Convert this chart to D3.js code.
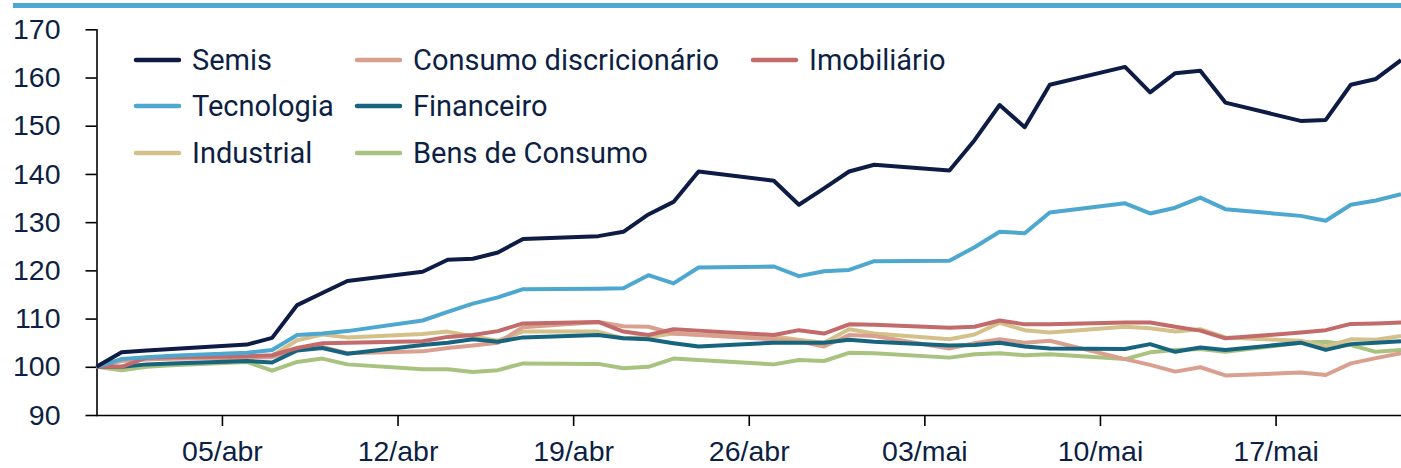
<!DOCTYPE html>
<html>
<head>
<meta charset="utf-8">
<script src="https://cdn.jsdelivr.net/npm/d3@7"></script>
<style>
  body { margin: 0; background: #fff; }
  svg { display: block; font-family: Roboto, "Noto Sans", sans-serif; }
  .axis path, .axis line { stroke: #000; stroke-width: 1.6; }
  .axis text { fill: #0d1f44; font-size: 28.5px; }
  .legend text { fill: #0d1f44; font-size: 29px; }
</style>
</head>
<body>
<div class="canvas"></div>
<script>
// trading days (2020)
const dates = ["2020-03-31","2020-04-01","2020-04-02","2020-04-03","2020-04-06","2020-04-07","2020-04-08","2020-04-09","2020-04-10",
  "2020-04-13","2020-04-14","2020-04-15","2020-04-16","2020-04-17","2020-04-20","2020-04-21","2020-04-22","2020-04-23","2020-04-24",
  "2020-04-27","2020-04-28","2020-04-29","2020-04-30","2020-05-01","2020-05-04","2020-05-05","2020-05-06","2020-05-07","2020-05-08",
  "2020-05-11","2020-05-12","2020-05-13","2020-05-14","2020-05-15","2020-05-18","2020-05-19","2020-05-20","2020-05-21","2020-05-22"];

const semis = [100,103.0,103.4,103.7,104.6,106.0,112.8,115.3,117.8,119.7,122.2,122.4,123.7,126.5,127.1,128.0,131.6,134.2,140.5,
  138.6,133.6,137.0,140.5,141.9,140.7,147.0,154.3,149.7,158.5,162.2,156.9,160.9,161.4,154.8,151.0,151.2,158.5,159.7,163.6];
const tecnologia = [100,101.6,102.0,102.3,102.9,103.5,106.6,106.9,107.4,109.6,111.4,113.1,114.4,116.1,116.2,116.3,119.0,117.3,120.6,
  120.8,118.8,119.8,120.1,121.9,122.0,124.8,128.0,127.7,132.0,133.9,131.8,133.0,135.1,132.7,131.3,130.3,133.6,134.5,135.8];
const industrial = [100,101.6,101.6,101.7,102.0,102.3,105.5,106.7,106.1,106.8,107.3,106.3,105.4,107.3,107.3,105.9,106.2,106.9,106.7,
  106.3,105.6,105.0,107.8,106.9,105.7,106.7,109.1,107.6,107.1,108.3,108.0,107.3,107.8,106.1,105.4,104.2,105.7,105.6,106.4];
const consumoDisc = [100,101.2,101.5,101.7,101.9,102.0,103.5,104.1,102.8,103.2,103.9,104.4,105.0,108.2,109.3,108.4,108.3,106.9,106.6,
  105.7,105.3,104.2,106.6,106.4,103.8,104.9,105.7,105.0,105.4,101.6,100.4,99.0,99.9,98.2,98.8,98.3,100.7,101.8,102.8];
const financeiro = [100,100.0,100.5,100.7,101.2,100.9,103.4,103.9,102.7,104.5,105.0,105.7,105.2,106.1,106.6,105.9,105.7,104.9,104.2,
  105.0,105.0,105.0,105.6,105.2,104.4,104.5,105.0,104.2,103.8,103.7,104.7,103.1,104.0,103.5,105.0,103.5,104.7,105.0,105.3];
const bensConsumo = [100,99.3,100.0,100.3,101.0,99.2,101.0,101.7,100.5,99.5,99.5,98.9,99.3,100.7,100.6,99.7,100.0,101.7,101.4,
  100.5,101.4,101.2,102.9,102.8,101.9,102.6,102.8,102.4,102.6,101.6,103.0,103.5,103.7,103.1,105.0,105.2,104.5,103.1,103.5];
const imobiliario = [100,100.0,101.9,102.0,102.2,102.4,103.9,104.9,105.0,105.3,106.2,106.6,107.4,109.0,109.3,107.3,106.6,107.8,107.5,
  106.6,107.6,106.9,108.8,108.7,108.1,108.3,109.6,108.8,108.8,109.2,109.2,108.3,107.5,105.9,107.1,107.6,108.9,109.0,109.2];

// legend order (column by column)
const seriesNames = ["Semis","Tecnologia","Industrial","Consumo discricionário","Financeiro","Bens de Consumo","Imobiliário"];
const seriesValues = [semis, tecnologia, industrial, consumoDisc, financeiro, bensConsumo, imobiliario];
const seriesColors = ["#0e1c45","#4ea7cf","#d4c08a","#d9a08f","#17647f","#a8c37f","#c26b6a"];
// drawing order, bottom to top
const drawOrder = [5, 2, 3, 4, 6, 1, 0];

const yTicks = [90,100,110,120,130,140,150,160,170];
const monthAbbr = ["jan","fev","mar","abr","mai","jun","jul","ago","set","out","nov","dez"];

const w = 1401, h = 468;
const margin = { top: 29.3, left: 96.5, right: 0, bottom: 53 };

const parse = d3.timeParse("%Y-%m-%d");
const days = dates.map(parse);

const svg = d3.select(".canvas").append("svg").attr("width", w).attr("height", h);

// top rule
svg.append("rect").attr("x", 13).attr("y", 3).attr("width", w - 13).attr("height", 5).attr("fill", "#4ea7cf");

const xScale = d3.scaleTime()
  .domain([parse("2020-03-31"), parse("2020-05-22")])
  .range([margin.left, w]);

const yScale = d3.scaleLinear()
  .domain([90, 170])
  .range([h - margin.bottom, margin.top]);

// axes
const xAxis = d3.axisBottom(xScale)
  .tickValues(d3.timeSunday.range(parse("2020-04-05"), parse("2020-05-18")))
  .tickFormat(d => d3.timeFormat("%d")(d) + "/" + monthAbbr[d.getMonth()])
  .tickSize(11)
  .tickSizeOuter(0)
  .tickPadding(15);
svg.append("g")
  .attr("class", "axis")
  .attr("transform", `translate(0, ${h - margin.bottom})`)
  .call(xAxis);

const yAxis = d3.axisLeft(yScale)
  .tickValues(yTicks)
  .tickSize(11)
  .tickSizeOuter(0)
  .tickPadding(25);
svg.append("g")
  .attr("class", "axis")
  .attr("transform", `translate(${margin.left}, 0)`)
  .call(yAxis);

svg.selectAll(".axis .domain").attr("stroke-linecap", "square");

// lines
const line = d3.line()
  .x((d, i) => xScale(days[i]))
  .y(d => yScale(d));

svg.append("g")
  .selectAll("path")
  .data(drawOrder)
  .enter()
  .append("path")
  .attr("d", i => line(seriesValues[i]))
  .attr("fill", "none")
  .attr("stroke", i => seriesColors[i])
  .attr("stroke-width", 4)
  .attr("stroke-linejoin", "round");

// legend
const legendCols = [136, 357, 753];
const legendRows = [60, 106, 153];
const legend = svg.append("g").attr("class", "legend");
const item = legend.selectAll("g")
  .data(seriesNames)
  .enter()
  .append("g")
  .attr("transform", (d, i) => `translate(${legendCols[Math.floor(i / 3)]}, ${legendRows[i % 3]})`);
item.append("line")
  .attr("x1", 0).attr("x2", 43)
  .attr("stroke", (d, i) => seriesColors[i])
  .attr("stroke-width", 4.5)
  .attr("stroke-linecap", "round");
item.append("text")
  .attr("x", 56)
  .attr("dy", "0.35em")
  .text(d => d);
</script>
</body>
</html>
